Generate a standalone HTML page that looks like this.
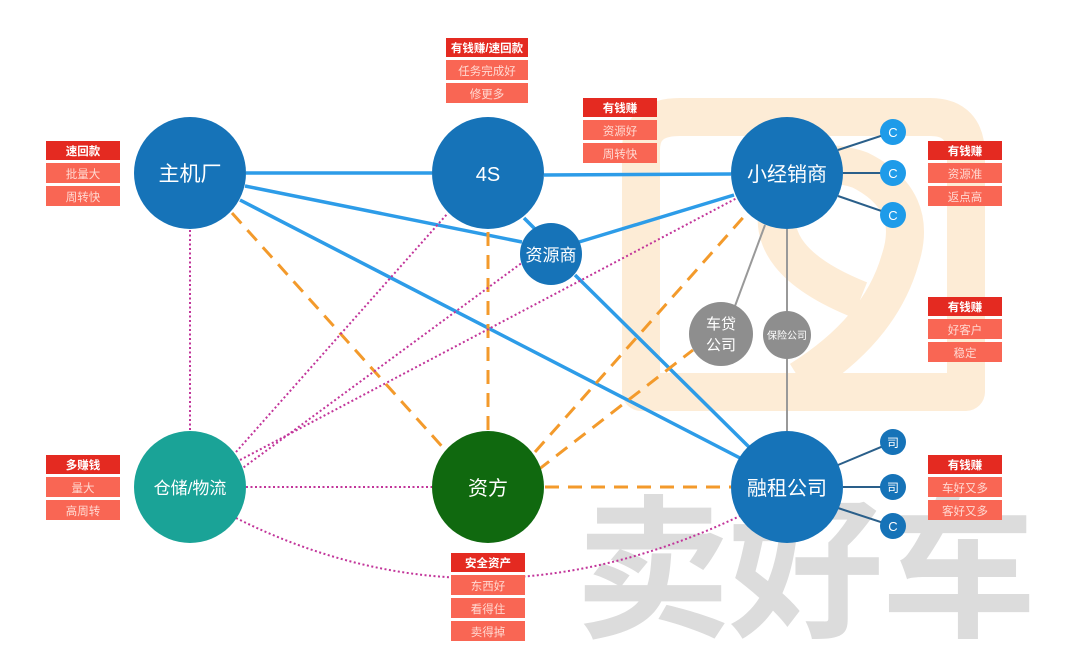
<!DOCTYPE html>
<html><head><meta charset="utf-8"><style>
html,body{margin:0;padding:0;background:#fff;}
svg{display:block;font-family:"Liberation Sans","Noto Sans CJK SC",sans-serif;}
</style></head><body>
<svg width="1080" height="654" viewBox="0 0 1080 654">
<!-- watermark -->
<g fill="none" stroke="#fdecd6" stroke-width="38" stroke-linejoin="round">
<path d="M641,392 L641,150 Q641,117 680,117 L930,117 Q966,117 966,155 L966,392 Z"/>
<path d="M860,300 Q760,260 780,200 Q800,150 860,170 Q920,200 900,260 Q880,330 800,380"/>
</g>
<text x="805" y="625" font-size="155" font-weight="bold" fill="#dcdcdc" text-anchor="middle" letter-spacing="-2">卖好车</text>

<!-- blue lines -->
<g stroke="#2d9ce8" stroke-width="3.5" fill="none">
<line x1="246" y1="173" x2="432" y2="173"/>
<line x1="544" y1="175" x2="731" y2="174"/>
<line x1="245" y1="186" x2="522" y2="242"/>
<line x1="579" y1="242" x2="734" y2="195"/>
<line x1="240" y1="200" x2="740" y2="458"/>
<line x1="575" y1="275" x2="750" y2="448"/>
<line x1="524" y1="218" x2="536" y2="230"/>
</g>
<!-- orange dashed -->
<g stroke="#f39a2b" stroke-width="3" stroke-dasharray="14,9" fill="none">
<line x1="232" y1="213" x2="447" y2="452"/>
<line x1="488" y1="232" x2="488" y2="430"/>
<line x1="535" y1="452" x2="748" y2="212"/>
<line x1="538" y1="470" x2="693" y2="350"/>
<line x1="545" y1="487" x2="731" y2="487"/>
</g>
<!-- purple dotted -->
<g stroke="#c2359a" stroke-width="2" stroke-dasharray="2,2.5" fill="none">
<line x1="190" y1="230" x2="190" y2="431"/>
<line x1="236" y1="452" x2="448" y2="213"/>
<line x1="240" y1="460" x2="737" y2="198"/>
<line x1="240" y1="470" x2="523" y2="262"/>
<line x1="246" y1="487" x2="432" y2="487"/>
<path d="M236,518 Q480,640 742,515"/>
</g>
<!-- gray lines -->
<g stroke="#999" stroke-width="2" fill="none">
<line x1="765" y1="225" x2="735" y2="306"/>
<line x1="787" y1="229" x2="787" y2="431"/>
</g>
<!-- spokes -->
<g stroke="#2a5f8a" stroke-width="2">
<line x1="838" y1="150" x2="893" y2="132"/>
<line x1="843" y1="173" x2="893" y2="173"/>
<line x1="838" y1="196" x2="893" y2="215"/>
<line x1="838" y1="465" x2="893" y2="442"/>
<line x1="843" y1="487" x2="893" y2="487"/>
<line x1="838" y1="508" x2="893" y2="526"/>
</g>

<!-- nodes -->
<g fill="#fff" text-anchor="middle">
<circle cx="190" cy="173" r="56" fill="#1673b8"/><text x="190" y="181" font-size="21">主机厂</text>
<circle cx="488" cy="173" r="56" fill="#1673b8"/><text x="488" y="181" font-size="20">4S</text>
<circle cx="787" cy="173" r="56" fill="#1673b8"/><text x="787" y="181" font-size="20">小经销商</text>
<circle cx="551" cy="254" r="31" fill="#1673b8"/><text x="551" y="261" font-size="17">资源商</text>
<circle cx="721" cy="334" r="32" fill="#8e8e8e"/><text x="721" y="329" font-size="15">车贷</text><text x="721" y="350" font-size="15">公司</text>
<circle cx="787" cy="335" r="24" fill="#8e8e8e"/><text x="787" y="339" font-size="10">保险公司</text>
<circle cx="190" cy="487" r="56" fill="#1aa397"/><text x="190" y="494" font-size="17">仓储/物流</text>
<circle cx="488" cy="487" r="56" fill="#10690f"/><text x="488" y="495" font-size="20">资方</text>
<circle cx="787" cy="487" r="56" fill="#1673b8"/><text x="787" y="495" font-size="20">融租公司</text>
<circle cx="893" cy="132" r="13" fill="#1e9be9"/><text x="893" y="137" font-size="13">C</text>
<circle cx="893" cy="173" r="13" fill="#1e9be9"/><text x="893" y="178" font-size="13">C</text>
<circle cx="893" cy="215" r="13" fill="#1e9be9"/><text x="893" y="220" font-size="13">C</text>
<circle cx="893" cy="442" r="13" fill="#1673b8"/><text x="893" y="447" font-size="12">司</text>
<circle cx="893" cy="487" r="13" fill="#1673b8"/><text x="893" y="492" font-size="12">司</text>
<circle cx="893" cy="526" r="13" fill="#1673b8"/><text x="893" y="531" font-size="13">C</text>
</g>

<!-- label boxes -->
<g font-size="11.5" text-anchor="middle">
<g transform="translate(46,141)"><rect width="74" height="19" fill="#e42a21"/><text x="37" y="14" fill="#fff" font-weight="bold">速回款</text><rect y="22" width="74" height="20" fill="#f96654"/><text x="37" y="37" fill="#ffd9d2">批量大</text><rect y="45" width="74" height="20" fill="#f96654"/><text x="37" y="60" fill="#ffd9d2">周转快</text></g>
<g transform="translate(446,38)"><rect width="82" height="19" fill="#e42a21"/><text x="41" y="14" fill="#fff" font-weight="bold">有钱赚/速回款</text><rect y="22" width="82" height="20" fill="#f96654"/><text x="41" y="37" fill="#ffd9d2">任务完成好</text><rect y="45" width="82" height="20" fill="#f96654"/><text x="41" y="60" fill="#ffd9d2">修更多</text></g>
<g transform="translate(583,98)"><rect width="74" height="19" fill="#e42a21"/><text x="37" y="14" fill="#fff" font-weight="bold">有钱赚</text><rect y="22" width="74" height="20" fill="#f96654"/><text x="37" y="37" fill="#ffd9d2">资源好</text><rect y="45" width="74" height="20" fill="#f96654"/><text x="37" y="60" fill="#ffd9d2">周转快</text></g>
<g transform="translate(928,141)"><rect width="74" height="19" fill="#e42a21"/><text x="37" y="14" fill="#fff" font-weight="bold">有钱赚</text><rect y="22" width="74" height="20" fill="#f96654"/><text x="37" y="37" fill="#ffd9d2">资源准</text><rect y="45" width="74" height="20" fill="#f96654"/><text x="37" y="60" fill="#ffd9d2">返点高</text></g>
<g transform="translate(928,297)"><rect width="74" height="19" fill="#e42a21"/><text x="37" y="14" fill="#fff" font-weight="bold">有钱赚</text><rect y="22" width="74" height="20" fill="#f96654"/><text x="37" y="37" fill="#ffd9d2">好客户</text><rect y="45" width="74" height="20" fill="#f96654"/><text x="37" y="60" fill="#ffd9d2">稳定</text></g>
<g transform="translate(928,455)"><rect width="74" height="19" fill="#e42a21"/><text x="37" y="14" fill="#fff" font-weight="bold">有钱赚</text><rect y="22" width="74" height="20" fill="#f96654"/><text x="37" y="37" fill="#ffd9d2">车好又多</text><rect y="45" width="74" height="20" fill="#f96654"/><text x="37" y="60" fill="#ffd9d2">客好又多</text></g>
<g transform="translate(46,455)"><rect width="74" height="19" fill="#e42a21"/><text x="37" y="14" fill="#fff" font-weight="bold">多赚钱</text><rect y="22" width="74" height="20" fill="#f96654"/><text x="37" y="37" fill="#ffd9d2">量大</text><rect y="45" width="74" height="20" fill="#f96654"/><text x="37" y="60" fill="#ffd9d2">高周转</text></g>
<g transform="translate(451,553)"><rect width="74" height="19" fill="#e42a21"/><text x="37" y="14" fill="#fff" font-weight="bold">安全资产</text><rect y="22" width="74" height="20" fill="#f96654"/><text x="37" y="37" fill="#ffd9d2">东西好</text><rect y="45" width="74" height="20" fill="#f96654"/><text x="37" y="60" fill="#ffd9d2">看得住</text><rect y="68" width="74" height="20" fill="#f96654"/><text x="37" y="83" fill="#ffd9d2">卖得掉</text></g>
</g>
</svg>
</body></html>
